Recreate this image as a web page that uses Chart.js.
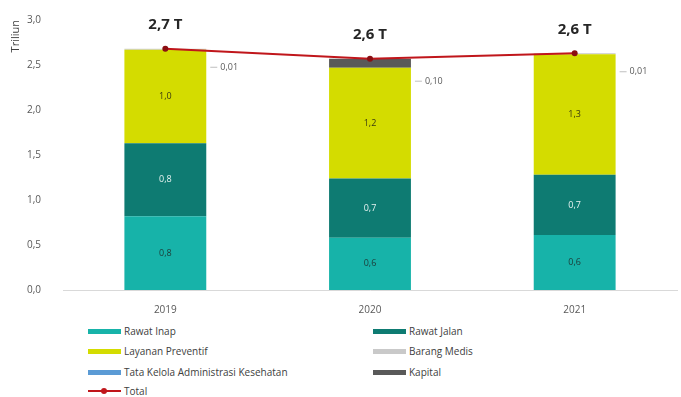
<!DOCTYPE html>
<html>
<head>
<meta charset="utf-8">
<script src="https://cdn.jsdelivr.net/npm/chart.js@4/dist/chart.umd.min.js"></script>
<style>
  body { margin: 0; background: #fff; font-family: "Open Sans", sans-serif; }
  #wrap { position: relative; width: 681px; height: 397px; }
  #chart { position: absolute; left: 0; top: 0; }
  .leg { position: absolute; font-size: 10px; color: #404040; line-height: 12px; white-space: nowrap; }
  .leg i { display: inline-block; width: 33px; height: 5px; margin-right: 3px; vertical-align: middle; position: relative; top: -1px; }
  .leg i.line { height: 2px; background: #c0161b; }
  .leg i.line::after { content: ""; position: absolute; left: 13px; top: -2px; width: 6px; height: 6px; border-radius: 3px; background: #c0161b; }
</style>
</head>
<body>
<div id="wrap">
  <canvas id="chart" width="681" height="322"></canvas>
  <div class="leg" style="left:88px;top:325px"><i style="background:#17b3a9"></i>Rawat Inap</div>
  <div class="leg" style="left:88px;top:345px"><i style="background:#d4dc00"></i>Layanan Preventif</div>
  <div class="leg" style="left:88px;top:366px"><i style="background:#5b9bd5"></i>Tata Kelola Administrasi Kesehatan</div>
  <div class="leg" style="left:88px;top:385px"><i class="line"></i>Total</div>
  <div class="leg" style="left:373px;top:325px"><i style="background:#0e7b72"></i>Rawat Jalan</div>
  <div class="leg" style="left:373px;top:345px"><i style="background:#c9c9c9"></i>Barang Medis</div>
  <div class="leg" style="left:373px;top:366px"><i style="background:#595959"></i>Kapital</div>
</div>
<script>
var years = ["2019", "2020", "2021"];
var rawatInap = [0.82, 0.58, 0.61];
var rawatJalan = [0.81, 0.66, 0.67];
var layanan = [1.04, 1.23, 1.34];
var tataKelola = [0, 0, 0];
var barangMedis = [0.01, 0, 0.01];
var kapital = [0, 0.10, 0];
var total = [2.68, 2.57, 2.63];
var yTicks = [0, 0.5, 1, 1.5, 2, 2.5, 3];

function koma(v, d) {
    return v.toFixed(d).replace(".", ",");
}

// labels inside the stacked segments, small ones outside with a leader line, totals above the line
var segLabels = {
    id: "segLabels",
    afterDatasetsDraw: function (chart) {
        var ctx = chart.ctx;
        ctx.save();
        ctx.textAlign = "center";
        ctx.textBaseline = "middle";
        chart.data.datasets.forEach(function (ds, i) {
            var meta = chart.getDatasetMeta(i);
            if (ds.type === "line") {
                ctx.font = "bold 15px 'Open Sans', sans-serif";
                ctx.fillStyle = "#262626";
                meta.data.forEach(function (p, j) {
                    ctx.fillText(koma(ds.data[j], 1) + " T", p.x, p.y - 24);
                });
                return;
            }
            meta.data.forEach(function (bar, j) {
                var v = ds.data[j];
                if (!v) return;
                var yMid = (bar.y + bar.base) / 2;
                if (v < 0.2) {
                    var x0 = bar.x + bar.width / 2;
                    var yl = yMid + 18;
                    ctx.strokeStyle = "#bfbfbf";
                    ctx.lineWidth = 1;
                    ctx.beginPath();
                    ctx.moveTo(x0 + 4, yl);
                    ctx.lineTo(x0 + 11, yl);
                    ctx.stroke();
                    ctx.font = "9px 'Open Sans', sans-serif";
                    ctx.fillStyle = "#595959";
                    ctx.textAlign = "left";
                    ctx.fillText(koma(v, 2), x0 + 14, yl);
                    ctx.textAlign = "center";
                } else {
                    ctx.font = "9px 'Open Sans', sans-serif";
                    ctx.fillStyle = ds.labelColor;
                    ctx.fillText(koma(v, 1), bar.x, yMid);
                }
            });
        });
        ctx.restore();
    }
};

new Chart(document.getElementById("chart").getContext("2d"), {
    data: {
        labels: years,
        datasets: [
            { type: "line", label: "Total", data: total, borderColor: "#c0161b", backgroundColor: "#c0161b",
              borderWidth: 2, pointRadius: 3, pointBackgroundColor: "#8b0e12", pointBorderWidth: 0, order: 0 },
            { type: "bar", label: "Rawat Inap", data: rawatInap, backgroundColor: "#17b3a9", labelColor: "#1d3b38", order: 1 },
            { type: "bar", label: "Rawat Jalan", data: rawatJalan, backgroundColor: "#0e7b72", labelColor: "#e8f4f2", order: 1 },
            { type: "bar", label: "Layanan Preventif", data: layanan, backgroundColor: "#d4dc00", labelColor: "#3a3a10", order: 1 },
            { type: "bar", label: "Tata Kelola Administrasi Kesehatan", data: tataKelola, backgroundColor: "#5b9bd5", order: 1 },
            { type: "bar", label: "Barang Medis", data: barangMedis, backgroundColor: "#c9c9c9", order: 1 },
            { type: "bar", label: "Kapital", data: kapital, backgroundColor: "#595959", order: 1 }
        ]
    },
    options: {
        responsive: false,
        animation: false,
        layout: { padding: { top: 12, right: 0, bottom: 0, left: 0 } },
        datasets: { bar: { categoryPercentage: 1, barPercentage: 0.4 } },
        plugins: { legend: { display: false }, tooltip: { enabled: false } },
        scales: {
            x: {
                stacked: true,
                grid: { display: false },
                border: { color: "#d9d9d9" },
                ticks: { color: "#595959", font: { size: 10, family: "'Open Sans', sans-serif" }, padding: 6 }
            },
            y: {
                stacked: true,
                min: 0,
                max: 3,
                afterBuildTicks: function (s) { s.ticks = yTicks.map(function (v) { return { value: v }; }); },
                afterFit: function (s) { s.width = 63; },
                grid: { display: false },
                border: { display: false },
                ticks: {
                    color: "#595959", padding: 14,
                    font: { size: 10, family: "'Open Sans', sans-serif" },
                    callback: function (v) { return koma(v, 1); }
                },
                title: { display: true, text: "Triliun", align: "end", color: "#404040",
                         font: { size: 11, family: "'Open Sans', sans-serif" }, padding: { top: 9, bottom: 0 } }
            }
        }
    },
    plugins: [segLabels]
});
</script>
</body>
</html>
